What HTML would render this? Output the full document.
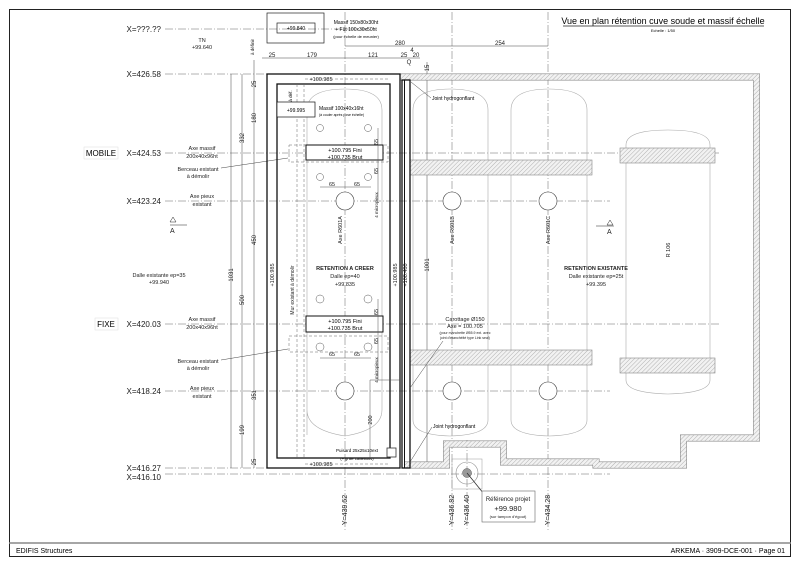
<!DOCTYPE html>
<html><head><meta charset="utf-8"><style>
html,body{margin:0;padding:0;background:#fff;}
svg{display:block;font-family:"Liberation Sans",sans-serif;}
</style></head><body>
<svg width="800" height="566" viewBox="0 0 800 566" xmlns="http://www.w3.org/2000/svg">
<defs>
<pattern id="h" width="3" height="3" patternUnits="userSpaceOnUse" patternTransform="rotate(45)">
<rect width="3" height="3" fill="#f2f2f2"/><line x1="0" y1="0" x2="0" y2="3" stroke="#aaa" stroke-width="0.9"/>
</pattern>
</defs>
<rect x="0" y="0" width="800" height="566" fill="#fff"/>
<rect x="9.5" y="9.5" width="781" height="547" fill="none" stroke="#222" stroke-width="1"/>
<line x1="9" y1="543" x2="791" y2="543" stroke="#888" stroke-width="1.5"/>
<text x="16" y="553" font-size="7">EDIFIS Structures</text>
<text x="785" y="553" font-size="7" text-anchor="end">ARKEMA  ·  3909-DCE-001  ·  Page 01</text>

<text x="663" y="24" font-size="9" text-anchor="middle">Vue en plan rétention cuve soude et massif échelle</text>
<line x1="563" y1="26" x2="764" y2="26" stroke="#222" stroke-width="0.7"/>
<text x="663" y="32" font-size="4" text-anchor="middle">Echelle : 1/50</text>

<g stroke="#666" stroke-width="0.5" stroke-dasharray="8,2,1,2" fill="none">
<line x1="165" y1="29" x2="370" y2="29"/>
<line x1="165" y1="74" x2="267" y2="74"/>
<line x1="165" y1="153" x2="720" y2="153"/>
<line x1="165" y1="201" x2="610" y2="201"/>
<line x1="165" y1="324" x2="720" y2="324"/>
<line x1="165" y1="391" x2="610" y2="391"/>
<line x1="165" y1="468" x2="267" y2="468"/>
<line x1="165" y1="474" x2="610" y2="474"/>
<line x1="345" y1="12" x2="345" y2="530"/>
<line x1="452" y1="12" x2="452" y2="530"/>
<line x1="467" y1="440" x2="467" y2="530"/>
<line x1="548" y1="12" x2="548" y2="530"/>
</g>
<g font-size="8" fill="#222" text-anchor="end">
<text x="161" y="32">X=???.??</text>
<text x="161" y="77">X=426.58</text>
<text x="161" y="156">X=424.53</text>
<text x="161" y="204">X=423.24</text>
<text x="161" y="327">X=420.03</text>
<text x="161" y="394">X=418.24</text>
<text x="161" y="471">X=416.27</text>
<text x="161" y="480">X=416.10</text>
</g>
<rect x="84" y="147" width="34" height="12" fill="none" stroke="#ddd" stroke-width="0.5"/>
<text x="101" y="156" font-size="8" text-anchor="middle">MOBILE</text>
<rect x="95" y="318" width="23" height="12" fill="none" stroke="#ddd" stroke-width="0.5"/>
<text x="106" y="327" font-size="8" text-anchor="middle">FIXE</text>

<g font-size="5.5" text-anchor="middle" fill="#222">
<text x="202" y="42">TN</text><text x="202" y="49">+99.640</text>
<text x="202" y="150">Axe massif</text><text x="202" y="158">200x40x96ht</text>
<text x="198" y="171">Berceau existant</text><text x="198" y="178">à démolir</text>
<text x="202" y="198">Axe pieux</text><text x="202" y="206">existant</text>
<text x="159" y="277">Dalle existante ep=35</text><text x="159" y="284">+99.940</text>
<text x="202" y="321">Axe massif</text><text x="202" y="329">200x40x96ht</text>
<text x="198" y="363">Berceau existant</text><text x="198" y="370">à démolir</text>
<text x="202" y="390">Axe pieux</text><text x="202" y="398">existant</text>
</g>
<g stroke="#444" stroke-width="0.5">
<line x1="221" y1="168" x2="288" y2="158"/>
<line x1="221" y1="360" x2="288" y2="349"/>
</g>
<g font-size="7" fill="#222" stroke="#222" stroke-width="0.5">
<path d="M170 222 l3 -5 l3 5 z" fill="none"/><line x1="170" y1="225" x2="187" y2="225"/>
<text x="170" y="233" stroke="none">A</text>
<path d="M607 225 l3 -5 l3 5 z" fill="none"/><line x1="596" y1="226" x2="614" y2="226"/>
<text x="607" y="234" stroke="none">A</text>
</g>

<g stroke="#444" stroke-width="0.5">
<line x1="231" y1="74" x2="231" y2="468"/>
<line x1="242" y1="74" x2="242" y2="468"/>
<line x1="254" y1="60" x2="254" y2="468"/>
<line x1="262" y1="58" x2="420" y2="58"/>
<line x1="345" y1="46" x2="548" y2="46"/>
<line x1="427" y1="62" x2="427" y2="468"/>
</g>
<g font-size="6" fill="#222" text-anchor="middle">
<text transform="translate(233,275) rotate(-90)">1031</text>
<text transform="translate(244,138) rotate(-90)">332</text>
<text transform="translate(244,300) rotate(-90)">500</text>
<text transform="translate(244,430) rotate(-90)">199</text>
<text transform="translate(256,84) rotate(-90)">25</text>
<text transform="translate(256,118) rotate(-90)">180</text>
<text transform="translate(256,240) rotate(-90)">450</text>
<text transform="translate(256,395) rotate(-90)">351</text>
<text transform="translate(256,462) rotate(-90)">25</text>
<text transform="translate(254,47) rotate(-90)" font-size="4.5">à définir</text>
<text x="272" y="57">25</text><text x="312" y="57">179</text><text x="373" y="57">121</text>
<text x="404" y="57">25</text><text x="412" y="52">4</text><text x="416" y="57">20</text>
<text x="400" y="45">280</text><text x="500" y="45">254</text>
<text x="409" y="64">Q</text>
<text transform="translate(429,68) rotate(-90)">15</text>
<text transform="translate(429,265) rotate(-90)">1001</text>
</g>

<rect x="267" y="13" width="57" height="30" fill="none" stroke="#222" stroke-width="0.7"/>
<rect x="277" y="23" width="38" height="10" fill="none" stroke="#222" stroke-width="0.7"/>
<text x="296" y="30" font-size="5" text-anchor="middle">+99.840</text>
<g font-size="5" text-anchor="middle"><text x="356" y="24">Massif 150x80x30ht</text><text x="356" y="31">+ Fût 100x30x50ht</text><text x="356" y="38" font-size="4">(pour échelle de meunier)</text></g>

<polyline points="400,77 756.5,77 756.5,438 683.5,438 683.5,465 596,465 596,462 503.5,462 503.5,444 446.5,444 446.5,465 405,465" fill="none" stroke="#888" stroke-width="7"/>
<polyline points="400,77 756.5,77 756.5,438 683.5,438 683.5,465 596,465 596,462 503.5,462 503.5,444 446.5,444 446.5,465 405,465" fill="none" stroke="url(#h)" stroke-width="5.8"/>

<g fill="none" stroke="#aaa" stroke-width="0.6">
<path d="M307 435 V110 Q307 89 345 89 Q382 89 382 110 V410 Q382 430 345 436 Q307 430 307 410"/>
<path d="M413 420 V110 Q413 89 450 89 Q488 89 488 110 V420 Q488 435 450 436 Q413 435 413 420Z"/>
<path d="M511 420 V110 Q511 89 549 89 Q587 89 587 110 V420 Q587 435 549 436 Q511 435 511 420Z"/>
<path d="M626 380 V145 Q626 130 668 130 Q710 130 710 145 V380 Q710 393 668 394 Q626 393 626 380Z"/>
</g>

<g stroke="#888" stroke-width="0.6" fill="url(#h)">
<rect x="410" y="160" width="182" height="15"/>
<rect x="620" y="148" width="95" height="15"/>
<rect x="410" y="350" width="182" height="15"/>
<rect x="620" y="358" width="95" height="15"/>
</g>

<g fill="#fff" stroke="#444" stroke-width="0.6">
<circle cx="345" cy="201" r="9"/><circle cx="452" cy="201" r="9"/><circle cx="548" cy="201" r="9"/>
<circle cx="345" cy="391" r="9"/><circle cx="452" cy="391" r="9"/><circle cx="548" cy="391" r="9"/>
</g>

<rect x="267" y="74" width="133" height="394" fill="none" stroke="#111" stroke-width="1.3"/>
<rect x="277" y="84" width="113" height="374" fill="none" stroke="#111" stroke-width="1.3"/>
<rect x="402" y="80" width="8" height="388" fill="none" stroke="#111" stroke-width="1.3"/>
<line x1="404.5" y1="80" x2="404.5" y2="468" stroke="#111" stroke-width="1"/>
<g stroke="#666" stroke-width="0.5" stroke-dasharray="3,2" fill="none">
<line x1="297" y1="84" x2="297" y2="458"/>
<line x1="304" y1="84" x2="304" y2="458"/>
<line x1="305" y1="79" x2="390" y2="79"/>
<line x1="305" y1="464" x2="390" y2="464"/>
<rect x="289" y="145" width="99" height="17"/>
<rect x="289" y="336" width="99" height="16"/>
</g>
<text x="321" y="81" font-size="5.5" text-anchor="middle" fill="#222">+100.985</text>
<text x="321" y="466" font-size="5.5" text-anchor="middle" fill="#222">+100.985</text>
<rect x="277" y="102" width="38" height="15" fill="#fff" stroke="#111" stroke-width="0.7"/>
<text x="296" y="112" font-size="5" text-anchor="middle">+99.995</text>
<text transform="translate(292,96) rotate(-90)" font-size="4.5" text-anchor="middle">à déf.</text>
<text x="319" y="110" font-size="5">Massif 100x40x16ht</text>
<text x="319" y="116" font-size="3.5">(à couler après pose échelle)</text>

<rect x="306" y="145" width="77" height="15" fill="#fff" stroke="#111" stroke-width="1"/>
<text x="345" y="152" font-size="5.5" text-anchor="middle">+100.795 Fini</text>
<text x="345" y="159" font-size="5.5" text-anchor="middle">+100.735 Brut</text>
<rect x="306" y="316" width="77" height="16" fill="#fff" stroke="#111" stroke-width="1"/>
<text x="345" y="323" font-size="5.5" text-anchor="middle">+100.795 Fini</text>
<text x="345" y="330" font-size="5.5" text-anchor="middle">+100.735 Brut</text>

<g fill="none" stroke="#555" stroke-width="0.5">
<circle cx="320" cy="128" r="3.5"/><circle cx="368" cy="128" r="3.5"/>
<circle cx="320" cy="177" r="3.5"/><circle cx="368" cy="177" r="3.5"/>
<circle cx="320" cy="299" r="4"/><circle cx="368" cy="299" r="4"/>
<circle cx="320" cy="347" r="4"/><circle cx="368" cy="347" r="4"/>
<line x1="320" y1="187" x2="371" y2="187"/><line x1="320" y1="358" x2="371" y2="358"/>
<line x1="378" y1="128" x2="378" y2="200"/><line x1="378" y1="299" x2="378" y2="380"/>
<line x1="370" y1="380" x2="370" y2="458"/>
<line x1="370" y1="380" x2="400" y2="380"/>
</g>
<g font-size="5.5" text-anchor="middle" fill="#222">
<text x="332" y="186">65</text><text x="357" y="186">65</text>
<text x="332" y="356">65</text><text x="357" y="356">65</text>
<text transform="translate(378,142) rotate(-90)">65</text>
<text transform="translate(378,171) rotate(-90)">65</text>
<text transform="translate(378,312) rotate(-90)">65</text>
<text transform="translate(378,341) rotate(-90)">65</text>
<text transform="translate(378,205) rotate(-90)" font-size="4.5">4 micropieux</text>
<text transform="translate(378,370) rotate(-90)" font-size="4.5">4 micropieux</text>
<text transform="translate(372,420) rotate(-90)">200</text>
<text transform="translate(342,230) rotate(-90)">Axe R601A</text>
<text transform="translate(454,230) rotate(-90)">Axe R601B</text>
<text transform="translate(550,230) rotate(-90)">Axe R601C</text>
<text transform="translate(670,250) rotate(-90)">R 106</text>
<text transform="translate(274,275) rotate(-90)">+100.985</text>
<text transform="translate(397,275) rotate(-90)">+100.985</text>
<text transform="translate(407,275) rotate(-90)">+100.480</text>
<text transform="translate(294,290) rotate(-90)" font-size="5">Mur existant à démolir</text>
<text x="345" y="270" font-weight="bold" font-size="5.5">RETENTION A CREER</text>
<text x="345" y="278">Dalle ep=40</text><text x="345" y="286">+99.835</text>
<text x="596" y="270" font-weight="bold" font-size="5.5">RETENTION EXISTANTE</text>
<text x="596" y="278">Dalle existante ep=25t</text><text x="596" y="286">+99.395</text>
<text x="465" y="321">Carottage Ø150</text>
<text x="465" y="328">Axe = 100.705</text>
<text x="465" y="334" font-size="3.5">(pour manchette Ø55.9 ext. avec</text>
<text x="465" y="339" font-size="3.5">joint d'étanchéité type Link seal)</text>
</g>
<line x1="443" y1="341" x2="410" y2="388" stroke="#444" stroke-width="0.5"/>
<text x="432" y="100" font-size="5">Joint hydrogonflant</text>
<line x1="411" y1="82" x2="431" y2="98" stroke="#444" stroke-width="0.5"/>
<text x="433" y="428" font-size="5">Joint hydrogonflant</text>
<line x1="432" y1="427" x2="410" y2="462" stroke="#444" stroke-width="0.5"/>

<text x="357" y="452" font-size="4.5" text-anchor="middle">Puisard 25x25x10ext</text>
<text x="357" y="460" font-size="4" text-anchor="middle">(+ grille caillebotis)</text>
<rect x="387" y="448" width="9" height="9" fill="#fff" stroke="#333" stroke-width="0.8"/>

<rect x="452" y="459" width="30" height="30" fill="none" stroke="#999" stroke-width="0.5"/>
<circle cx="467" cy="473" r="11" fill="none" stroke="#888" stroke-width="0.6"/>
<circle cx="467" cy="473" r="4.5" fill="#999" stroke="#555" stroke-width="0.5"/>
<line x1="467" y1="473" x2="484" y2="494" stroke="#333" stroke-width="0.8"/>
<rect x="482" y="491" width="53" height="31" fill="#fff" stroke="#666" stroke-width="0.6"/>
<g text-anchor="middle" fill="#222">
<text x="508" y="501" font-size="6">Référence projet</text>
<text x="508" y="511" font-size="7.5">+99.980</text>
<text x="508" y="518" font-size="4">(sur tampon d'égout)</text>
</g>

<g font-size="7" text-anchor="middle" fill="#222">
<text transform="translate(347,510) rotate(-90)">Y=439.62</text>
<text transform="translate(454,510) rotate(-90)">Y=436.82</text>
<text transform="translate(469,510) rotate(-90)">Y=436.40</text>
<text transform="translate(550,510) rotate(-90)">Y=434.28</text>
</g>
</svg>
</body></html>
